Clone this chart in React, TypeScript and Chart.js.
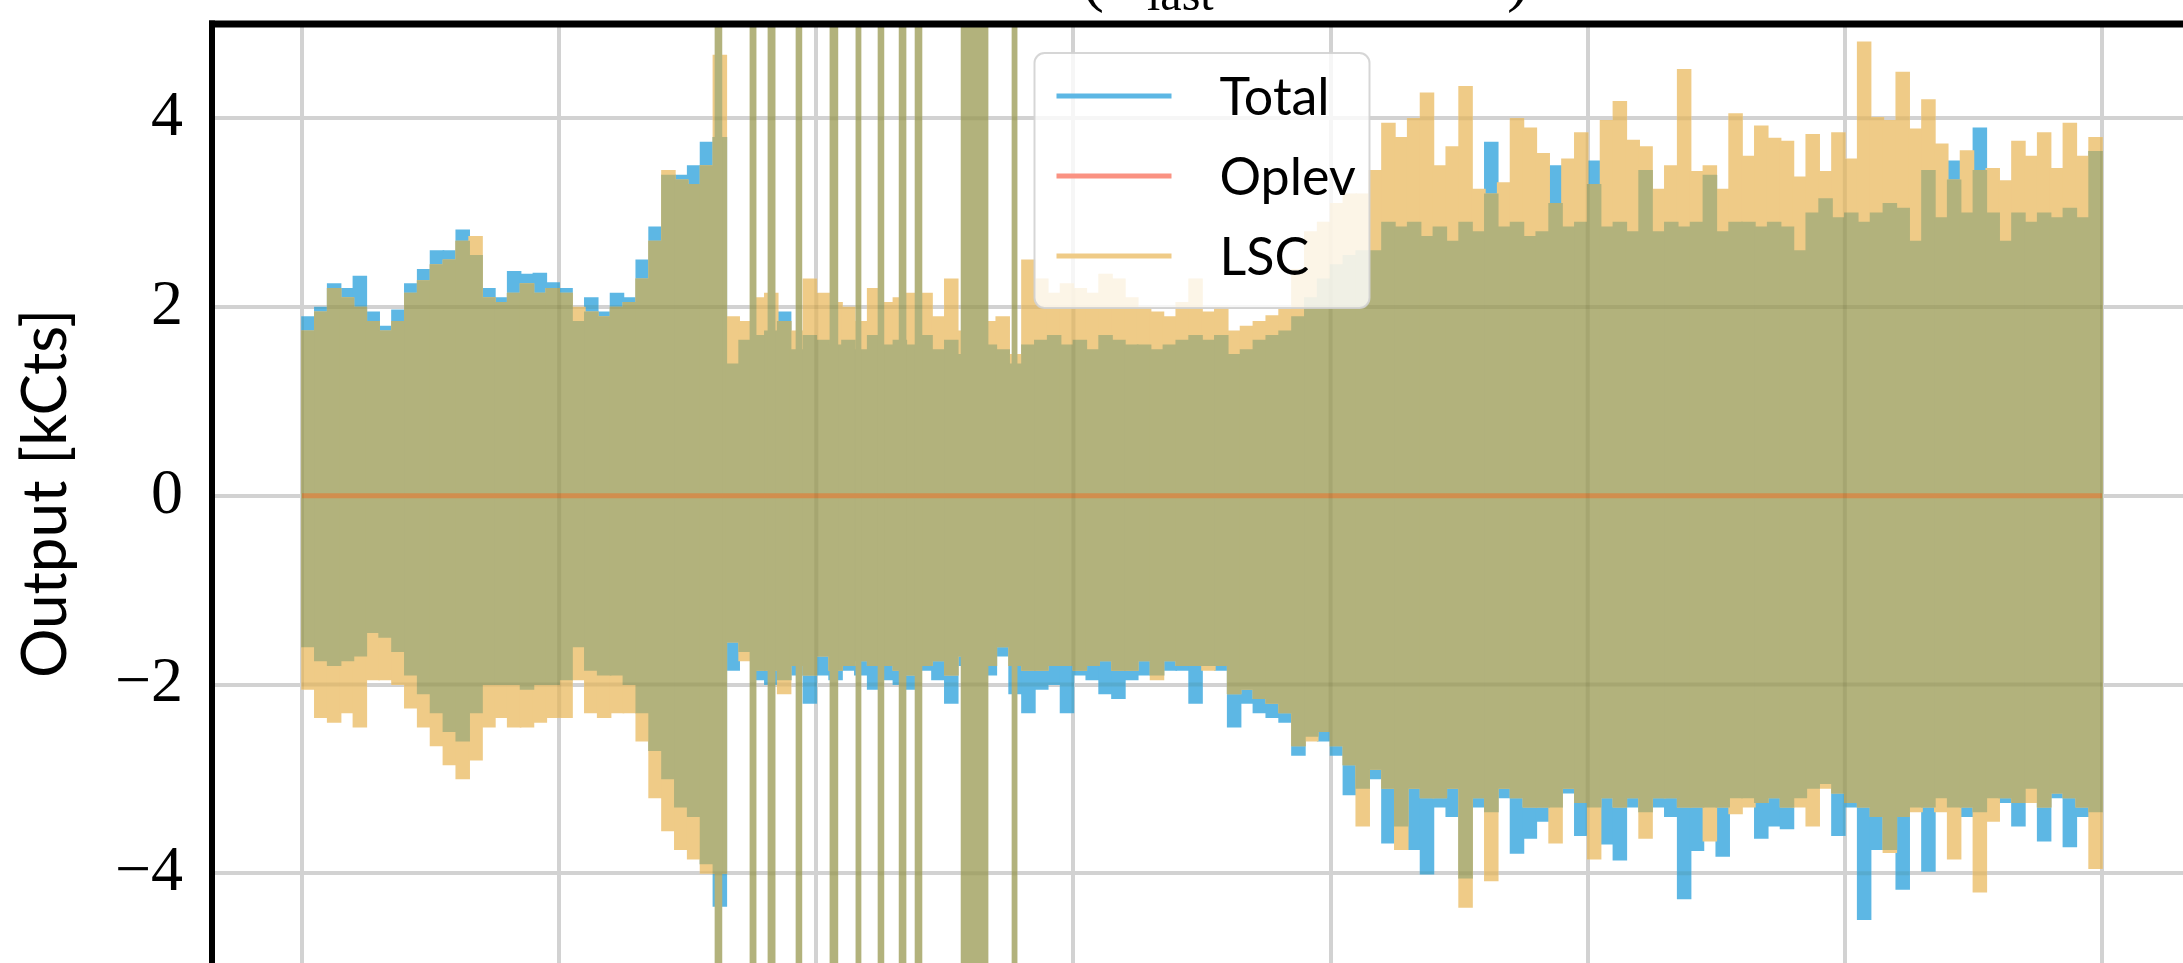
import React, { useEffect, useRef } from "react";
import { Chart, registerables } from "chart.js";

Chart.register(...registerables);

// ---------------- data ----------------
const sampleStep = 0.05;
const sampleCount = 140;
// sample centres along the time axis (grid units)
const sampleTimes = Array.from({ length: sampleCount }, (_, k) => +(0.025 + k * sampleStep).toFixed(3));

const totalHigh = [
  1.90, 2.00, 2.25, 2.20, 2.33, 1.95, 1.80, 1.97, 2.25, 2.40, 2.60, 2.60, 2.82, 2.55, 2.20, 2.10, 2.38, 2.35, 2.36, 2.26,
  2.20, 1.85, 2.10, 1.95, 2.15, 2.10, 2.50, 2.85, 3.40, 3.40, 3.50, 3.75, 3.80,
  1.40, 1.65, 1.70, 1.75, 1.95, 1.55, 1.70, 1.65, 1.60, 1.65, 1.55, 1.70, 1.60, 1.65, 1.60, 1.70, 1.55, 1.65, 1.50, 1.60,
  1.60, 1.55, 1.40, 1.60, 1.65, 1.70, 1.60, 1.65, 1.55, 1.70, 1.65, 1.60, 1.60, 1.55, 1.60, 1.65, 1.70, 1.65, 1.70,
  1.50, 1.55, 1.65, 1.70, 1.75, 1.90, 2.10, 2.30, 2.45, 2.55, 2.60, 2.60, 2.90, 2.85, 2.90, 2.75, 2.85, 2.70, 2.90, 2.80,
  3.75, 2.85, 2.90, 2.75, 2.80, 3.50, 2.85, 2.90, 3.55, 2.85, 2.90, 2.80, 3.45, 2.80, 2.90, 2.85, 2.90, 3.40, 2.80, 2.90,
  2.90, 2.85, 2.90, 2.85, 2.60, 3.00, 3.15, 2.95, 3.00, 2.90, 3.00, 3.10, 3.05, 2.70, 3.45, 2.95, 3.55, 3.00, 3.90, 3.00,
  2.70, 3.00, 2.90, 3.00, 2.95, 3.05, 2.95, 3.65,
];
const totalLow = [
  -1.60, -1.75, -1.80, -1.75, -1.70, -1.45, -1.50, -1.65, -1.90, -2.10, -2.30, -2.50, -2.60, -2.30, -2.00, -2.00, -2.00,
  -2.05, -2.00, -2.00, -1.95, -1.60, -1.85, -1.90, -1.90, -2.00, -2.30, -2.70, -3.00, -3.30, -3.40, -3.90, -4.35,
  -1.85, -1.65, -1.95, -2.00, -1.95, -1.90, -2.20, -1.90, -1.95, -1.85, -1.90, -2.05, -1.95, -2.00, -2.05, -1.85, -1.95,
  -2.20, -1.80, -1.90, -1.90, -1.70, -2.10, -2.30, -2.05, -2.00, -2.30, -1.90, -1.95, -2.10, -2.15, -1.95, -1.90, -1.90,
  -1.85, -1.85, -2.20, -1.80, -1.85,
  -2.45, -2.20, -2.30, -2.35, -2.40, -2.75, -2.55, -2.60, -2.75, -3.17, -3.10, -3.00, -3.68, -3.50, -3.75, -4.01, -3.30,
  -3.40, -4.05, -3.30, -3.35, -3.20, -3.79, -3.63, -3.45, -3.30, -3.15, -3.60, -3.30, -3.69, -3.86, -3.30, -3.35, -3.30,
  -3.40, -4.27, -3.76, -3.30, -3.82, -3.20,
  -3.20, -3.63, -3.50, -3.53, -3.20, -3.10, -3.05, -3.60, -3.30, -4.49, -3.75, -3.75, -4.17, -3.30, -3.98, -3.20, -3.30,
  -3.40, -3.35, -3.20, -3.25, -3.50, -3.10, -3.66, -3.20, -3.72, -3.40, -3.35,
];
const lscHigh = [
  1.75, 1.95, 2.20, 2.10, 2.00, 1.85, 1.75, 1.85, 2.15, 2.28, 2.45, 2.50, 2.70, 2.75, 2.10, 2.05, 2.15, 2.25, 2.15, 2.20,
  2.15, 2.00, 1.95, 1.90, 2.00, 2.05, 2.30, 2.70, 3.45, 3.35, 3.30, 3.50, 4.67,
  1.90, 1.85, 2.10, 2.15, 1.85, 1.75, 2.30, 2.15, 2.05, 2.00, 1.85, 2.20, 2.05, 2.10, 2.15, 2.15, 1.90, 2.30, 1.75, 1.85,
  1.85, 1.90, 1.50, 2.50, 2.30, 2.15, 2.25, 2.20, 2.15, 2.35, 2.30, 2.10, 2.00, 1.95, 1.90, 2.05, 2.30, 1.95, 2.00,
  1.75, 1.80, 1.85, 1.91, 1.98, 2.40, 2.80, 2.90, 3.10, 3.20, 3.20, 3.45, 3.95, 3.80, 4.00, 4.27, 3.50, 3.70, 4.34, 3.25,
  3.20, 3.32, 4.00, 3.90, 3.63, 3.10, 3.57, 3.85, 3.30, 3.98, 4.18, 3.77, 3.70, 3.25, 3.50, 4.52, 3.44, 3.50, 3.25, 4.05,
  3.60, 3.92, 3.79, 3.76, 3.38, 3.83, 3.44, 3.85, 3.57, 4.81, 4.01, 3.98, 4.49, 3.89, 4.20, 3.73, 3.35, 3.66, 3.45, 3.47,
  3.34, 3.76, 3.60, 3.85, 3.47, 3.95, 3.60, 3.80,
];
const lscLow = [
  -2.05, -2.35, -2.40, -2.30, -2.45, -1.95, -1.95, -2.00, -2.25, -2.45, -2.65, -2.85, -3.00, -2.80, -2.45, -2.35, -2.45,
  -2.45, -2.40, -2.35, -2.35, -1.95, -2.30, -2.35, -2.30, -2.30, -2.60, -3.20, -3.55, -3.75, -3.85, -4.00, -4.00,
  -1.55, -1.75, -1.85, -1.85, -2.10, -1.80, -1.90, -1.70, -1.85, -1.80, -1.75, -1.80, -1.80, -1.85, -1.90, -1.80, -1.75,
  -1.90, -1.70, -1.80, -1.80, -1.60, -1.80, -1.85, -1.85, -1.80, -1.80, -1.85, -1.80, -1.75, -1.85, -1.85, -1.75, -1.95,
  -1.75, -1.80, -1.80, -1.85, -1.80,
  -2.10, -2.05, -2.15, -2.20, -2.30, -2.65, -2.60, -2.50, -2.65, -2.85, -3.50, -2.90, -3.10, -3.75, -3.10, -3.20, -3.20,
  -3.10, -4.36, -3.20, -4.08, -3.10, -3.20, -3.30, -3.30, -3.68, -3.10, -3.25, -3.85, -3.20, -3.30, -3.20, -3.63, -3.20,
  -3.20, -3.30, -3.30, -3.66, -3.30, -3.37,
  -3.30, -3.25, -3.20, -3.30, -3.30, -3.50, -3.10, -3.15, -3.25, -3.30, -3.40, -3.78, -3.40, -3.35, -3.30, -3.35, -3.85,
  -3.30, -4.20, -3.45, -3.20, -3.25, -3.25, -3.30, -3.15, -3.20, -3.30, -3.95,
];

// Oplev: flat at zero over the whole record
const oplevTimes = [0, 7];
const oplevValues = [0, 0];

// glitches: both signals rail far beyond the axis range
const glitchStart = [1.606, 1.742, 1.812, 1.921, 2.053, 2.154, 2.240, 2.322, 2.384, 2.563, 2.761];
const glitchEnd = [1.633, 1.766, 1.840, 1.944, 2.084, 2.174, 2.263, 2.349, 2.411, 2.668, 2.781];
const glitchHigh = [6, 6, 6, 6, 6, 6, 6, 6, 6, 6, 6];
const glitchLow = [-6, -6, -6, -6, -6, -6, -6, -6, -6, -6, -6];

const xGridValues = [0, 1, 2, 3, 4, 5, 6, 7];
const yTickValues = [-4, -2, 0, 2, 4];
const legendLabels = ["Total", "Oplev", "LSC"];
const yTitle = "Output [kCts]";

// ---------------- layout / style ----------------
const W = 2183;
const H = 963;
const AXIS_LEFT = 212;
const AXIS_TOP = 24;
const X_MIN = -0.35;
const X_MAX = 7.315;
const Y_MIN = -4.95;
const Y_MAX = 5.0;
const PX_PER_UNIT = (W - AXIS_LEFT) / (X_MAX - X_MIN);

const BLUE = "#5db7e4";
const ORANGE = "#efcb87";
const OLIVE = "#b2b27c";
const OPLEV_LINE = "#d18e4e";
const OPLEV_LEGEND = "#fa9282";
const GRID = "#d2d2d2";
const SANS = "Lato, 'Noto Sans', sans-serif";
const SERIF = "'Liberation Serif', 'DejaVu Serif', serif";

// grid lines faintly visible through the translucent signal fill
const gridTintPlugin = {
  id: "gridTint",
  afterDatasetsDraw(chart: any) {
    const { ctx, chartArea, scales } = chart;
    ctx.save();
    ctx.beginPath();
    chart.data.datasets.forEach((ds: any, di: number) => {
      if (ds.type !== "bar") return;
      const meta = chart.getDatasetMeta(di);
      meta.data.forEach((el: any) => {
        const p = el.getProps(["x", "y", "base", "width"], true);
        ctx.rect(p.x - p.width / 2, Math.min(p.y, p.base), p.width, Math.abs(p.base - p.y));
      });
    });
    ctx.clip();
    ctx.globalCompositeOperation = "multiply";
    ctx.strokeStyle = "rgb(238,238,232)";
    ctx.lineWidth = 4;
    xGridValues.forEach((v) => {
      const px = scales.x.getPixelForValue(v);
      ctx.beginPath();
      ctx.moveTo(px, chartArea.top);
      ctx.lineTo(px, chartArea.bottom);
      ctx.stroke();
    });
    yTickValues.forEach((v) => {
      if (v === 0) return;
      const py = scales.y.getPixelForValue(v);
      ctx.beginPath();
      ctx.moveTo(chartArea.left, py);
      ctx.lineTo(chartArea.right, py);
      ctx.stroke();
    });
    ctx.restore();
  },
};

const spinesPlugin = {
  id: "spines",
  afterDatasetsDraw(chart: any) {
    const { ctx, chartArea } = chart;
    ctx.save();
    ctx.fillStyle = "#000";
    ctx.fillRect(chartArea.left - 3, chartArea.top - 3.5, W, 7);
    ctx.fillRect(chartArea.left - 3, chartArea.top - 3.5, 6, H);
    ctx.restore();
  },
};

const legendPlugin = {
  id: "boxLegend",
  afterDraw(chart: any) {
    const { ctx, chartArea, scales } = chart;
    const cx = scales.x.getPixelForValue(3.5);
    const bw = 335;
    const bh = 255;
    const left = cx - bw / 2;
    const top = chartArea.top + 29;
    ctx.save();
    ctx.beginPath();
    ctx.roundRect(left, top, bw, bh, 10);
    ctx.fillStyle = "rgba(255,255,255,0.8)";
    ctx.fill();
    ctx.lineWidth = 2;
    ctx.strokeStyle = "rgba(210,210,210,0.9)";
    ctx.stroke();
    const colors = [BLUE, OPLEV_LEGEND, ORANGE];
    ctx.font = `52px ${SANS}`;
    ctx.textBaseline = "middle";
    ctx.textAlign = "left";
    legendLabels.forEach((lab, i) => {
      const y = top + 43 + i * 80;
      ctx.strokeStyle = colors[i];
      ctx.lineWidth = 5;
      ctx.beginPath();
      ctx.moveTo(left + 22, y);
      ctx.lineTo(left + 137, y);
      ctx.stroke();
      ctx.fillStyle = "#000";
      ctx.fillText(lab, left + 185, y + 2);
    });
    ctx.restore();
  },
};

// bottom of the figure title, which is cut off by the frame edge
const titlePlugin = {
  id: "cutTitle",
  afterDraw(chart: any) {
    const { ctx } = chart;
    ctx.save();
    ctx.fillStyle = "#000";
    ctx.textBaseline = "alphabetic";
    ctx.textAlign = "left";
    ctx.font = `66px ${SERIF}`;
    ctx.fillText("(t", 1082, -1);
    ctx.fillText(")", 1507, -1);
    ctx.font = `48px ${SERIF}`;
    ctx.fillText("last", 1147, 10);
    ctx.restore();
  },
};

export default function App() {
  const ref = useRef<HTMLCanvasElement | null>(null);

  useEffect(() => {
    if (!ref.current) return;
    const barW = sampleStep * PX_PER_UNIT + 1;
    const rangeData = (lo: number[], hi: number[]) =>
      sampleTimes.map((t, i) => ({ x: t, y: [lo[i], hi[i]] }));
    const overlapData = sampleTimes.map((t, i) => ({
      x: t,
      y: [Math.max(totalLow[i], lscLow[i]), Math.min(totalHigh[i], lscHigh[i])],
    }));

    const glitchSets = glitchStart.map((s, i) => ({
      type: "bar",
      label: "glitch" + i,
      data: [{ x: (s + glitchEnd[i]) / 2, y: [glitchLow[i], glitchHigh[i]] }],
      backgroundColor: OLIVE,
      borderWidth: 0,
      barThickness: (glitchEnd[i] - s) * PX_PER_UNIT,
      grouped: false,
      order: 1,
    }));

    const chart = new Chart(ref.current, {
      type: "bar",
      data: {
        datasets: [
          {
            type: "line",
            label: "Oplev",
            data: oplevTimes.map((t, i) => ({ x: t, y: oplevValues[i] })),
            borderColor: OPLEV_LINE,
            borderWidth: 5,
            pointRadius: 0,
            fill: false,
            order: 0,
          },
          ...glitchSets,
          {
            type: "bar",
            label: "overlap",
            data: overlapData,
            backgroundColor: OLIVE,
            borderWidth: 0,
            barThickness: barW,
            grouped: false,
            order: 1,
          },
          {
            type: "bar",
            label: "LSC",
            data: rangeData(lscLow, lscHigh),
            backgroundColor: ORANGE,
            borderWidth: 0,
            barThickness: barW,
            grouped: false,
            order: 2,
          },
          {
            type: "bar",
            label: "Total",
            data: rangeData(totalLow, totalHigh),
            backgroundColor: BLUE,
            borderWidth: 0,
            barThickness: barW,
            grouped: false,
            order: 3,
          },
        ] as any,
      },
      options: {
        responsive: false,
        devicePixelRatio: 1,
        animation: false,
        events: [],
        layout: { padding: { top: AXIS_TOP, left: 0, right: 0, bottom: 0 } },
        plugins: {
          legend: { display: false },
          tooltip: { enabled: false },
          title: { display: false },
        },
        scales: {
          x: {
            type: "linear",
            min: X_MIN,
            max: X_MAX,
            offset: false,
            afterBuildTicks: (s: any) => {
              s.ticks = xGridValues.map((v) => ({ value: v }));
            },
            afterFit: (s: any) => {
              s.height = 0;
              s.paddingLeft = 0;
              s.paddingRight = 0;
            },
            ticks: { display: false },
            grid: { color: GRID, lineWidth: 4, drawTicks: false, offset: false },
            border: { display: false },
          },
          y: {
            type: "linear",
            min: Y_MIN,
            max: Y_MAX,
            afterBuildTicks: (s: any) => {
              s.ticks = yTickValues.map((v) => ({ value: v }));
            },
            afterFit: (s: any) => {
              s.width = AXIS_LEFT;
              s.paddingTop = 0;
              s.paddingBottom = 0;
            },
            ticks: {
              color: "#000",
              padding: 29,
              font: { family: SERIF, size: 64 },
              callback: (v: any) => (v < 0 ? "\u2212" + Math.abs(v) : String(v)),
            },
            grid: { color: GRID, lineWidth: 4, drawTicks: false },
            border: { display: false },
            title: {
              display: true,
              text: yTitle,
              color: "#000",
              font: { family: SANS, size: 62 },
              padding: { top: 9, bottom: 0 },
            },
          },
        },
      } as any,
      plugins: [gridTintPlugin, spinesPlugin, legendPlugin, titlePlugin],
    });
    return () => chart.destroy();
  }, []);

  return (
    <div
      style={{
        position: "fixed",
        left: 0,
        top: 0,
        width: W,
        height: H,
        overflow: "hidden",
        background: "#fff",
      }}
    >
      <canvas ref={ref} width={W} height={H} style={{ display: "block", width: W, height: H }} />
    </div>
  );
}
